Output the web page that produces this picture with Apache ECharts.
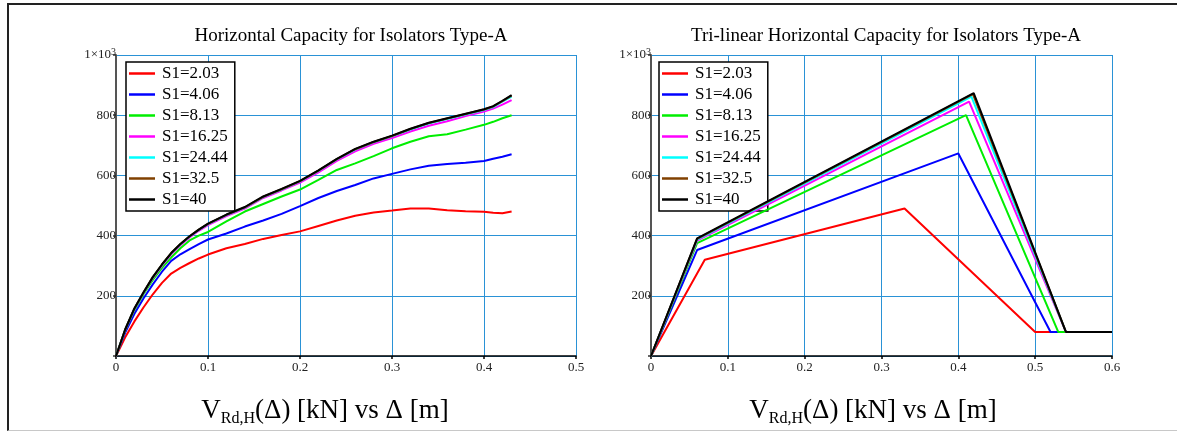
<!DOCTYPE html>
<html>
<head>
<meta charset="utf-8">
<script src="https://cdn.jsdelivr.net/npm/echarts@6/dist/echarts.min.js"></script>
<style>
  html, body { margin:0; padding:0; background:#fff; }
  #frame { position:absolute; left:7px; top:3px; width:1170px; height:428px;
           border-top:2px solid #222; border-left:2px solid #222; border-bottom:1px solid #c8c8c8; box-sizing:border-box; }
  #chart { position:absolute; left:0; top:0; width:1177px; height:434px; }
</style>
</head>
<body>
<div id="frame"></div>
<div id="chart"></div>
<script>
// ---------- DATA ----------
const seriesNames = ['S1=2.03', 'S1=4.06', 'S1=8.13', 'S1=16.25', 'S1=24.44', 'S1=32.5', 'S1=40'];
const seriesColors = ['#ff0000', '#0000ff', '#00ee00', '#ff00ff', '#00ffff', '#804000', '#000000'];

// Left chart: Horizontal capacity curves (Δ [m] -> V [kN])
const deltaX = [0, 0.01, 0.02, 0.03, 0.04, 0.05, 0.06, 0.07, 0.08, 0.09, 0.10,
                0.12, 0.14, 0.16, 0.18, 0.20,
                0.22, 0.24, 0.26, 0.28, 0.30, 0.32, 0.34, 0.36, 0.38, 0.40,
                0.41, 0.42, 0.43];
const capS1_203  = [0, 62, 115, 162, 205, 243, 274, 293, 309, 324, 337,
                    358, 372, 389, 402, 414,
                    432, 450, 466, 477, 483, 490, 490, 484, 481, 479,
                    476, 474, 480];
const capS1_406  = [0, 78, 140, 192, 238, 280, 316, 338, 355, 372, 387,
                    407, 430, 450, 472, 498,
                    525, 548, 568, 590, 605, 620, 632, 638, 642, 648,
                    655, 662, 670];
const capS1_813  = [0, 86, 153, 206, 253, 293, 327, 358, 384, 400, 412,
                    447, 480, 505, 530, 553,
                    585, 618, 640, 664, 690, 712, 730, 737, 752, 768,
                    778, 790, 800];
const capS1_1625 = [0, 87, 156, 210, 259, 300, 338, 368, 394, 416, 435,
                    465, 490, 525, 550, 576,
                    610, 648, 680, 705, 724, 746, 765, 780, 797, 812,
                    822, 835, 850];
const capS1_2444 = [0, 88, 157, 211, 261, 303, 341, 371, 397, 419, 438,
                    468, 493, 528, 553, 580,
                    615, 653, 686, 710, 730, 752, 772, 787, 802, 817,
                    827, 845, 862];
const capS1_325  = [0, 88, 158, 212, 262, 304, 342, 372, 398, 420, 439,
                    469, 494, 529, 554, 581,
                    616, 654, 687, 711, 731, 754, 774, 789, 804, 819,
                    829, 847, 865];
const capS1_40   = [0, 88, 158, 212, 262, 304, 342, 372, 398, 420, 440,
                    470, 495, 530, 555, 582,
                    617, 655, 688, 712, 732, 755, 775, 790, 805, 820,
                    830, 848, 867];

// Right chart: tri-linear capacity (Δ [m], V [kN])
const triX_203  = [0, 0.07, 0.33, 0.50, 0.60];
const triV_203  = [0, 320, 490, 80, 80];
const triX_406  = [0, 0.06, 0.40, 0.52, 0.60];
const triV_406  = [0, 352, 673, 80, 80];
const triX_813  = [0, 0.06, 0.41, 0.53, 0.60];
const triV_813  = [0, 375, 800, 80, 80];
const triX_1625 = [0, 0.06, 0.414, 0.54, 0.60];
const triV_1625 = [0, 383, 845, 80, 80];
const triX_2444 = [0, 0.06, 0.417, 0.54, 0.60];
const triV_2444 = [0, 387, 862, 80, 80];
const triX_325  = [0, 0.06, 0.419, 0.54, 0.60];
const triV_325  = [0, 389, 870, 80, 80];
const triX_40   = [0, 0.06, 0.42, 0.54, 0.60];
const triV_40   = [0, 391, 873, 80, 80];

const xTicksLeft  = [0, 0.1, 0.2, 0.3, 0.4, 0.5];
const xTicksRight = [0, 0.1, 0.2, 0.3, 0.4, 0.5, 0.6];
const yTicks = [0, 200, 400, 600, 800, 1000];

const topTitles = ['Horizontal Capacity for Isolators Type-A', 'Tri-linear Horizontal Capacity for Isolators Type-A'];

// ---------- BUILD ----------
const capCurves = [capS1_203, capS1_406, capS1_813, capS1_1625, capS1_2444, capS1_325, capS1_40];
const triXs = [triX_203, triX_406, triX_813, triX_1625, triX_2444, triX_325, triX_40];
const triVs = [triV_203, triV_406, triV_813, triV_1625, triV_2444, triV_325, triV_40];
const zip = (xs, ys) => xs.map((x, i) => [x, ys[i]]);

const SERIF = '"Liberation Serif", "DejaVu Serif", serif';

function xAxisCfg(idx, max) {
  return {
    type: 'value', gridIndex: idx, min: 0, max: max, interval: 0.1,
    axisLine: { show: true, onZero: false, lineStyle: { color: '#000', width: 1.5 } },
    axisTick: { show: true, length: 3, inside: false, lineStyle: { color: '#000', width: 1.5 } },
    axisLabel: { fontFamily: SERIF, fontSize: 13, color: '#222', margin: 5,
                 formatter: v => (Math.round(v * 10) / 10).toString() },
    splitLine: { show: true, lineStyle: { color: '#2a92d6', width: 1 } }
  };
}
function yAxisCfg(idx) {
  return {
    type: 'value', gridIndex: idx, min: 0, max: yTicks[yTicks.length - 1], interval: 200,
    axisLine: { show: true, onZero: false, lineStyle: { color: '#555', width: 2 } },
    axisTick: { show: true, length: 3, lineStyle: { color: '#333', width: 1.5 } },
    axisLabel: { fontFamily: SERIF, fontSize: 13, color: '#222', margin: 0,
                 formatter: v => v === 0 ? '' : (v === 1000 ? '{a|1×10}{s|3}' : String(v)),
                 rich: {
                   a: { fontFamily: SERIF, fontSize: 13, color: '#222', lineHeight: 16 },
                   s: { fontFamily: SERIF, fontSize: 10, color: '#222', lineHeight: 10, verticalAlign: 'top' }
                 } },
    splitLine: { show: true, lineStyle: { color: '#2a92d6', width: 1 } }
  };
}
function legendCfg(left) {
  return {
    left: left, top: 62, orient: 'vertical',
    data: seriesNames,
    icon: 'rect', itemWidth: 26, itemHeight: 2.5, itemGap: 4,
    padding: [3, 7, 3, 3],
    borderColor: '#000', borderWidth: 1.5, backgroundColor: '#fff',
    textStyle: { fontFamily: SERIF, fontSize: 17, color: '#000', lineHeight: 17, padding: [0, 0, 0, 2] },
    selectedMode: false
  };
}
const bottomRich = {
  v: { fontFamily: SERIF, fontSize: 27, fontWeight: 'normal', color: '#000', lineHeight: 32 },
  s: { fontFamily: SERIF, fontSize: 16, fontWeight: 'normal', color: '#000', lineHeight: 16, verticalAlign: 'bottom' }
};
const bottomText = '{v|V}{s|Rd,H}{v|(Δ) [kN] vs Δ [m]}';

const series = [];
seriesNames.forEach((name, i) => {
  series.push({
    name: name, type: 'line', xAxisIndex: 0, yAxisIndex: 0,
    data: zip(deltaX, capCurves[i]), showSymbol: false, smooth: false,
    lineStyle: { color: seriesColors[i], width: 2 }, itemStyle: { color: seriesColors[i] },
    z: 2 + i, animation: false
  });
});
seriesNames.forEach((name, i) => {
  series.push({
    name: name, type: 'line', xAxisIndex: 1, yAxisIndex: 1,
    data: zip(triXs[i], triVs[i]), showSymbol: false,
    lineStyle: { color: seriesColors[i], width: 2 }, itemStyle: { color: seriesColors[i] },
    z: 2 + i, animation: false
  });
});

const option = {
  animation: false,
  backgroundColor: 'transparent',
  title: [
    { text: topTitles[0], left: 346, top: 22, textAlign: 'center',
      textStyle: { fontFamily: SERIF, fontSize: 19, fontWeight: 'normal', color: '#000' } },
    { text: topTitles[1], left: 881, top: 22, textAlign: 'center',
      textStyle: { fontFamily: SERIF, fontSize: 19, fontWeight: 'normal', color: '#000' } },
    { text: bottomText, left: 320, top: 390, textAlign: 'center',
      textStyle: { fontWeight: 'normal', rich: bottomRich } },
    { text: bottomText, left: 868, top: 390, textAlign: 'center',
      textStyle: { fontWeight: 'normal', rich: bottomRich } }
  ],
  legend: [legendCfg(126), legendCfg(659)],
  grid: [
    { left: 116, top: 55, width: 460, height: 301, containLabel: false },
    { left: 651, top: 55, width: 461, height: 301, containLabel: false }
  ],
  xAxis: [xAxisCfg(0, xTicksLeft[xTicksLeft.length - 1]), xAxisCfg(1, xTicksRight[xTicksRight.length - 1])],
  yAxis: [yAxisCfg(0), yAxisCfg(1)],
  series: series
};

const chart = echarts.init(document.getElementById('chart'), null, { renderer: 'canvas' });
chart.setOption(option);
</script>
</body>
</html>
